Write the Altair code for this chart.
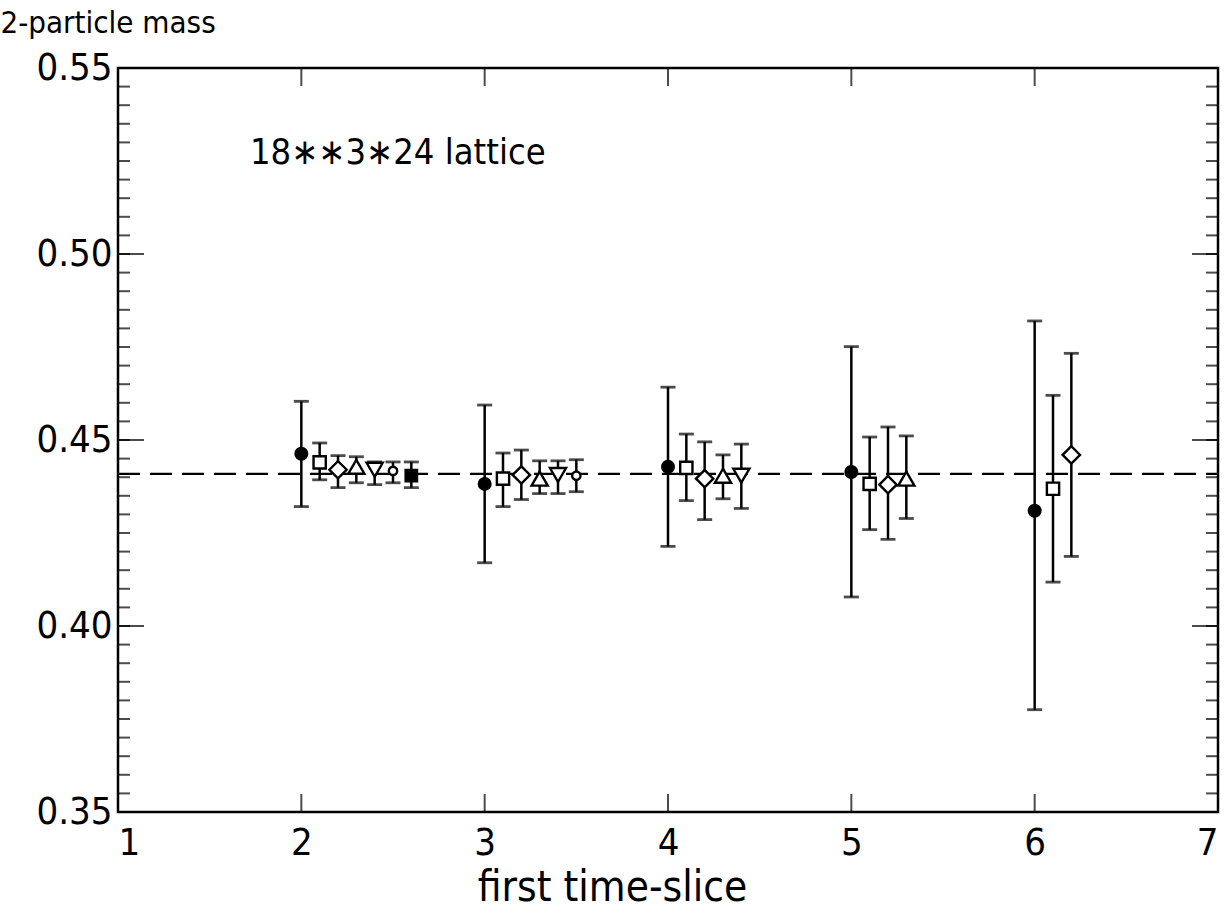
import altair as alt
import pandas as pd

# ---- data ----
x_vals = [2.0, 2.1, 2.2, 2.3, 2.4, 2.5, 2.6,
          3.0, 3.1, 3.2, 3.3, 3.4, 3.5,
          4.0, 4.1, 4.2, 4.3, 4.4,
          5.0, 5.1, 5.2, 5.3,
          6.0, 6.1, 6.2]
series = ["A", "B", "C", "D", "E", "F", "G",
          "A", "B", "C", "D", "E", "F",
          "A", "B", "C", "D", "E",
          "A", "B", "C", "D",
          "A", "B", "C"]
mass = [0.4463, 0.4440, 0.4420, 0.4428, 0.4420, 0.4417, 0.4404,
        0.4382, 0.4396, 0.4406, 0.4396, 0.4406, 0.4404,
        0.4428, 0.4425, 0.4396, 0.4404, 0.4404,
        0.4414, 0.4382, 0.4380, 0.4396,
        0.4310, 0.4369, 0.4460]
err_lo = [0.4321, 0.4393, 0.4372, 0.4385, 0.4380, 0.4385, 0.4372,
          0.4170, 0.4321, 0.4340, 0.4356, 0.4356, 0.4361,
          0.4214, 0.4337, 0.4286, 0.4342, 0.4316,
          0.4078, 0.4259, 0.4233, 0.4289,
          0.3775, 0.4118, 0.4187]
err_hi = [0.4604, 0.4492, 0.4458, 0.4455, 0.4441, 0.4441, 0.4441,
          0.4594, 0.4465, 0.4473, 0.4444, 0.4444, 0.4447,
          0.4642, 0.4516, 0.4495, 0.4460, 0.4489,
          0.4751, 0.4508, 0.4535, 0.4511,
          0.4820, 0.4620, 0.4733]

fit_x = [1, 7]
fit_y = [0.4409, 0.4409]

series_names = ["A", "B", "C", "D", "E", "F", "G"]
series_shapes = ["circle", "square", "diamond", "triangle-up", "triangle-down", "circle", "square"]
series_fill = ["black", "white", "white", "white", "white", "white", "black"]
series_size = [135, 150, 300, 260, 260, 70, 130]

x_ticks = [1, 2, 3, 4, 5, 6, 7]
y_major = [0.35, 0.40, 0.45, 0.50, 0.55]
y_minor = [round(0.35 + 0.005 * i, 3) for i in range(41)]

annot_text = ["18\u2217\u22173\u221724 lattice"]
annot_x = [1.72]
annot_y = [0.5243]

W, H = 1100, 744
FONT = "Liberation Sans Narrow, DejaVu Sans Condensed, Liberation Sans"

df = pd.DataFrame({"x": x_vals, "s": series, "m": mass, "lo": err_lo, "hi": err_hi})
fit = pd.DataFrame({"x": fit_x, "y": fit_y})
ymaj = pd.DataFrame({"v": y_major})
ymin = pd.DataFrame({"v": y_minor})
xt = pd.DataFrame({"v": x_ticks})
ann = pd.DataFrame({"t": annot_text, "x": annot_x, "y": annot_y})

xs = alt.Scale(domain=[1, 7], nice=False, zero=False)
ys = alt.Scale(domain=[0.35, 0.55], nice=False, zero=False)

xaxis = alt.Axis(values=x_ticks, format="d", ticks=False, domain=False, grid=False,
                 labelFontSize=38, labelPadding=12, labelFont=FONT, labelColor="black",
                 title="first time-slice", titleFont=FONT, titleFontSize=42,
                 titleFontWeight="normal", titleColor="black",
                 titleX=494, titleY=88, titleBaseline="alphabetic", titleAlign="center")
yaxis = alt.Axis(values=y_major, format=".2f", ticks=False, domain=False, grid=False,
                 labelFontSize=38, labelPadding=6, labelFont=FONT, labelColor="black",
                 title="2-particle mass", titleFont=FONT, titleFontSize=31,
                 titleFontWeight="normal", titleColor="black", titleAngle=0,
                 titleX=-118, titleY=-36, titleBaseline="alphabetic", titleAlign="left")

base_x = alt.X("x:Q", scale=xs, axis=xaxis)

line = alt.Chart(fit).mark_line(color="black", strokeWidth=2.2, strokeDash=[22, 10]).encode(
    x=base_x, y=alt.Y("y:Q", scale=ys, axis=yaxis))

rules = alt.Chart(df).mark_rule(color="black", strokeWidth=2.5).encode(
    x=alt.X("x:Q", scale=xs), y=alt.Y("lo:Q", scale=ys), y2="hi:Q")
cap_lo = alt.Chart(df).mark_tick(orient="horizontal", color="black", size=15, thickness=2.8).encode(
    x=alt.X("x:Q", scale=xs), y=alt.Y("lo:Q", scale=ys))
cap_hi = alt.Chart(df).mark_tick(orient="horizontal", color="black", size=15, thickness=2.8).encode(
    x=alt.X("x:Q", scale=xs), y=alt.Y("hi:Q", scale=ys))

point_layers = []
for name, shp, fil, sz in zip(series_names, series_shapes, series_fill, series_size):
    point_layers.append(
        alt.Chart(df).transform_filter(alt.datum.s == name).mark_point(
            shape=shp, fill=fil, filled=True, size=sz, stroke="black", strokeWidth=2.4,
            opacity=1, fillOpacity=1).encode(
            x=alt.X("x:Q", scale=xs), y=alt.Y("m:Q", scale=ys)))

# inward frame ticks
lt_min = alt.Chart(ymin).mark_tick(orient="horizontal", color="black", size=12, thickness=2).encode(
    x=alt.value(6), y=alt.Y("v:Q", scale=ys))
lt_maj = alt.Chart(ymaj).mark_tick(orient="horizontal", color="black", size=26, thickness=2).encode(
    x=alt.value(13), y=alt.Y("v:Q", scale=ys))
rt_min = alt.Chart(ymin).mark_tick(orient="horizontal", color="black", size=12, thickness=2).encode(
    x=alt.value(W - 6), y=alt.Y("v:Q", scale=ys))
rt_maj = alt.Chart(ymaj).mark_tick(orient="horizontal", color="black", size=26, thickness=2).encode(
    x=alt.value(W - 13), y=alt.Y("v:Q", scale=ys))
bt = alt.Chart(xt).mark_tick(orient="vertical", color="black", size=18, thickness=2).encode(
    x=alt.X("v:Q", scale=xs), y=alt.value(H - 9))
tt = alt.Chart(xt).mark_tick(orient="vertical", color="black", size=18, thickness=2).encode(
    x=alt.X("v:Q", scale=xs), y=alt.value(9))

text = alt.Chart(ann).mark_text(align="left", baseline="alphabetic", fontSize=36, font=FONT,
                                color="black").encode(
    x=alt.X("x:Q", scale=xs), y=alt.Y("y:Q", scale=ys), text="t:N")

chart = alt.layer(line, rules, cap_lo, cap_hi, *point_layers,
                  lt_min, lt_maj, rt_min, rt_maj, bt, tt, text).properties(
    width=W, height=H,
    autosize=alt.AutoSizeParams(type="none"),
    padding={"left": 118, "top": 68, "right": 10, "bottom": 104},
    background="white",
).configure_view(stroke="black", strokeWidth=2.5)

chart.save("out.html", embed_options={"renderer": "svg", "actions": False})
